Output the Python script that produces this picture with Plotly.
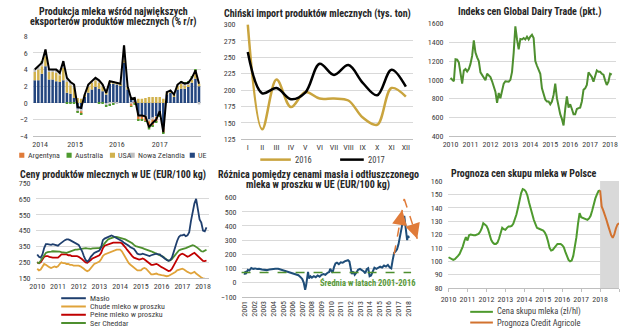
import plotly.graph_objects as go

W, H = 624, 329
FONT = "Liberation Sans Narrow, Arial Narrow, Roboto Condensed, Roboto, Arial, sans-serif"
TXT = "#404040"
TITLE = "#262626"
GRID = "#D9D9D9"
AXLINE = "#BFBFBF"

# ---------------- Panel 1: milk production (% y/y) ----------------
prod_labels = ["2014", "2015", "2016", "2017"]
prod_label_pos = [1.5, 11.3, 23, 35]
prod_ue = [2.7, 2.7, 3.5, 4.4, 2.8, 2.8, 2.6, 2.5, 2.7, 1.2, 1.1, 0.6,
           -0.7, -0.8, 0.7, 1.2, 1.6, 1.9, 1.7, 1.4, 1.0, 2.3, 2.3, 2.2,
           2.1, 4.8, 1.6, 0.5, 0.4, -1.5, -1.5, -1.5, -2.0, -1.8, -1.6, -1.2,
           -2.8, 1.0, 1.2, 0.7, 1.6, 1.7, 1.7, 1.9, 2.4, 2.9, 2.0]
prod_usa = [1.0, 1.3, 0.9, 1.2, 0.9, 0.9, 1.0, 0.8, 1.5, 1.3, 1.0, 1.2,
            0.6, 0.5, 0.3, 0.8, 0.8, 0.8, 0.7, 0.6, 0.4, 0.3, 0.3, 0.3,
            0.2, 0.3, 0.3, 0.2, 0.2, 0.5, 0.5, 0.6, 0.7, 0.7, 0.7, 0.7,
            0.5, 0.2, 0.2, 0.3, 0.5, 0.6, 0.4, 0.3, 0.4, 0.6, 0.3]
prod_nz = [0.3, 0.4, 0.4, 0.8, 0.3, 0.3, 0.4, 0.3, 0.8, 0.5, 0.4, 0.4,
           -0.3, -0.2, 0.0, 0.2, 0.2, 0.3, 0.3, 0.2, -0.3, -0.2, -0.1, -0.1,
           0.0, 1.8, 0.1, -0.1, 0.0, -0.1, 0.0, -0.1, -0.2, -0.2, -0.1, -0.1,
           -0.2, 0.1, 0.1, 0.0, 0.1, 0.2, 0.2, 0.2, 0.2, 0.4, -0.2]
prod_arg = [0.0, 0.0, 0.0, 0.0, 0.0, 0.0, 0.0, 0.0, 0.0, 0.0, 0.0, 0.0,
            -0.1, -0.3, 0.0, 0.0, 0.0, 0.0, 0.0, 0.0, 0.0, 0.0, 0.0, 0.0,
            0.0, 0.0, 0.0, -0.3, -0.1, -0.4, -0.5, -0.6, -0.8, -0.7, -0.6, -0.2,
            -0.6, 0.0, 0.0, 0.0, 0.0, 0.0, 0.0, 0.0, 0.0, 0.0, 0.0]
prod_aus = [0.0, 0.0, 0.1, 0.0, 0.0, 0.0, 0.0, 0.0, 0.0, -0.1, -0.1, -0.1,
            -0.1, -0.1, 0.0, 0.0, 0.0, 0.0, -0.1, -0.1, -0.1, -0.1, -0.1, 0.0,
            0.0, 0.0, 0.0, -0.1, -0.1, -0.1, -0.1, -0.1, -0.2, -0.1, -0.1, -0.1,
            -0.1, 0.0, 0.0, 0.0, 0.0, 0.1, 0.1, 0.1, 0.1, 0.1, 0.0]
prod_total = [4.0, 4.4, 4.8, 6.4, 4.0, 4.0, 4.0, 3.6, 5.0, 3.0, 2.5, 2.2,
              -0.5, -0.6, 1.0, 2.2, 2.6, 3.0, 2.7, 2.2, 1.2, 2.6, 2.5, 2.4,
              2.3, 6.9, 2.0, 0.5, 0.6, -1.5, -1.5, -1.6, -2.9, -2.4, -2.0, -1.0,
              -3.5, 1.3, 1.5, 1.0, 2.2, 2.5, 2.3, 2.4, 3.0, 3.9, 2.3]

# ---------------- Panel 2: Chinese imports ----------------
imp_months = ["I", "II", "III", "IV", "V", "VI", "VII", "VIII", "IX", "X", "XI", "XII"]
imp_2016 = [300, 140, 216, 174, 197, 187, 187, 184, 158, 147, 203, 190]
imp_2017 = [258, 195, 203, 186, 196, 240, 223, 238, 211, 192, 231, 205]

# ---------------- Panel 3: GDT index ----------------
gdt_start = 2010
gdt = [1020, 1000, 985, 1220, 1215, 1185, 1080, 960, 1100, 1115, 1090, 1115,
       1170, 1255, 1420, 1290, 1240, 1200, 1080, 1050, 1010, 995, 1065, 1050,
       1030, 985, 930, 875, 755, 860, 805, 895, 960, 985, 985, 980,
       1000, 1085, 1290, 1570, 1430, 1325, 1435, 1430, 1445, 1430, 1460, 1430,
       1460, 1480, 1445, 1200, 1150, 1115, 1065, 910, 840, 790, 770, 770,
       740, 770, 840, 960, 805, 710, 635, 585, 515, 690, 825, 705,
       740, 690, 635, 635, 690, 700, 705, 770, 895, 910, 945, 1080,
       1050, 1030, 980, 1050, 1100, 1085, 1085, 1065, 1055, 995, 945, 980,
       1065, 1055]

# ---------------- Panel 4: EU dairy prices ----------------
eu_start = 2010
eu_maslo = [300, 285, 280, 300, 340, 365, 365, 360, 360, 365, 360, 355,
            355, 365, 375, 385, 390, 395, 395, 390, 385, 380, 375, 370,
            360, 340, 320, 290, 265, 255, 265, 285, 300, 310, 315, 320,
            325, 345, 390, 400, 405, 410, 415, 420, 415, 410, 405, 400,
            395, 385, 375, 370, 360, 355, 345, 340, 335, 320, 305, 300,
            300, 305, 300, 295, 290, 290, 295, 300, 305, 305, 300, 300,
            290, 280, 270, 265, 260, 265, 280, 310, 350, 385, 410, 420,
            420, 425, 415, 420, 440, 510, 570, 620, 650, 580, 520, 500,
            450, 445, 470]
eu_smp = [210, 200, 205, 225, 240, 235, 225, 220, 215, 220, 225, 220,
          225, 240, 250, 245, 245, 240, 240, 235, 235, 230, 230, 230,
          230, 225, 220, 210, 200, 195, 200, 215, 230, 240, 245, 250,
          255, 270, 290, 300, 305, 310, 315, 320, 325, 325, 330, 330,
          330, 320, 300, 280, 260, 245, 235, 225, 215, 205, 200, 200,
          200, 210, 215, 210, 200, 185, 175, 175, 180, 180, 175, 170,
          170, 168, 165, 163, 165, 170, 175, 180, 190, 200, 205, 210,
          210, 205, 195, 190, 185, 180, 185, 190, 180, 170, 160, 155,
          150, 148, 145]
eu_wmp = [250, 245, 250, 265, 285, 290, 290, 285, 280, 280, 280, 280,
          280, 290, 300, 300, 300, 300, 295, 295, 290, 290, 290, 290,
          285, 280, 270, 260, 250, 248, 255, 265, 275, 280, 285, 290,
          295, 310, 340, 355, 360, 365, 370, 370, 375, 375, 375, 375,
          375, 370, 360, 345, 330, 315, 300, 290, 280, 275, 270, 268,
          270, 275, 270, 260, 250, 240, 235, 235, 240, 240, 235, 225,
          220, 215, 210, 200, 195, 198, 210, 230, 250, 270, 290, 300,
          305, 300, 290, 285, 290, 300, 305, 310, 300, 285, 275, 265,
          260, 258, 262]
eu_cheddar = [250, 245, 260, 280, 300, 310, 315, 315, 318, 320, 320, 320,
              320, 318, 315, 315, 312, 310, 315, 320, 325, 330, 330, 330,
              332, 335, 335, 340, 340, 338, 335, 335, 338, 340, 340, 340,
              340, 345, 355, 370, 385, 395, 400, 405, 410, 410, 410, 408,
              405, 400, 398, 395, 390, 385, 380, 370, 360, 352, 350, 348,
              345, 340, 335, 332, 330, 325, 320, 315, 310, 305, 300, 298,
              295, 285, 275, 265, 260, 262, 270, 285, 300, 315, 325, 330,
              332, 335, 340, 345, 350, 355, 358, 355, 350, 340, 330, 320,
              318, 325, 330]

# ---------------- Panel 5: butter - SMP spread ----------------
spread_years = [2001.0, 2001.1, 2001.2, 2001.35, 2001.5, 2001.7, 2001.9, 2002.1, 2002.3, 2002.5,
                2002.8, 2003.0, 2003.3, 2003.6, 2003.9, 2004.2, 2004.5, 2004.8, 2005.1, 2005.4,
                2005.7, 2006.0, 2006.3, 2006.6, 2006.8, 2007.0, 2007.15, 2007.3, 2007.4, 2007.5,
                2007.6, 2007.7, 2007.85, 2008.0, 2008.2, 2008.4, 2008.6, 2008.8, 2009.0, 2009.2,
                2009.4, 2009.6, 2009.8, 2009.9, 2010.0, 2010.15, 2010.3, 2010.45, 2010.6, 2010.8,
                2011.0, 2011.2, 2011.4, 2011.6, 2011.75, 2011.9, 2012.0, 2012.15, 2012.3, 2012.45,
                2012.6, 2012.8, 2013.0, 2013.2, 2013.4, 2013.55, 2013.7, 2013.85, 2014.0, 2014.15,
                2014.3, 2014.5, 2014.7, 2014.9, 2015.1, 2015.3, 2015.5, 2015.7, 2015.9, 2016.1,
                2016.25, 2016.4, 2016.55, 2016.7, 2016.85, 2017.0, 2017.15, 2017.3, 2017.45, 2017.6,
                2017.7, 2017.8, 2017.9, 2018.0, 2018.1]
spread_values = [55, 80, 70, 90, 85, 103, 97, 100, 96, 98,
                 92, 90, 88, 92, 96, 98, 97, 90, 85, 80,
                 74, 67, 60, 52, 40, 25, 0, -50, -20, 40,
                 75, 30, 45, 35, 45, 38, 50, 42, 55, 60,
                 55, 68, 75, 97, 82, 70, 110, 135, 140, 130,
                 143, 140, 150, 155, 158, 148, 105, 60, 78, 55,
                 68, 90, 97, 88, 78, 66, 95, 102, 45, 50,
                 78, 105, 97, 102, 112, 106, 120, 113, 125, 106,
                 100, 160, 210, 220, 235, 270, 330, 380, 430, 470,
                 420, 350, 300, 330, 315]
spread_avg = 72
trend_years = [2016.55, 2017.6, 2018.95]
trend_values = [200, 590, 310]

# ---------------- Panel 6: Polish milk purchase price ----------------
milk_start = 2010
milk_price = [103, 102.5, 101.5, 101, 101.5, 102.5, 104, 105.5, 108, 111, 115, 118,
              115.5, 119.5, 120, 119.5, 119.5, 119.5, 120, 120.5, 122, 124.5, 128.5, 127.5,
              126.5, 124, 119, 116, 114, 113, 113, 114, 117, 121, 125, 124,
              123.5, 125, 126, 126, 126.5, 128, 131, 135, 140, 146, 151, 154,
              153.5, 152, 149, 144, 139, 135, 131, 128, 125, 124.5, 124, 123.5,
              123, 121.5, 119, 115, 110, 108, 108.5, 110, 112, 113, 113, 113,
              112, 110.5, 107, 104, 101, 100, 100.5, 104, 110, 118, 128, 136,
              133, 132.5, 132, 131.5, 131, 132, 134, 138, 143, 147, 150, 152.5,
              153]
forecast_start = 2018
milk_forecast = [153, 141, 138, 135, 131, 127, 123, 119.5, 117.5, 120, 124.5, 127.5, 128.5]

# ---------------- layout geometry (pixels) ----------------
DOM = {
    1: ((26, 197), (33, 136)),
    2: ((237, 412), (21, 139)),
    3: ((448, 618), (20, 136)),
    4: ((29, 205), (184, 282)),
    5: ((238, 410), (199, 301)),
    6: ((447, 621), (182, 292)),
}
XR = {1: [-0.6, 46.6], 2: [-0.5, 11.5], 3: [2009.9, 2018.3], 4: [2009.92, 2018.29],
      5: [2000.69, 2018.31], 6: [2009.948, 2019.0]}
YR = {1: [-4, 8], 2: [125, 300], 3: [400, 1600], 4: [150, 750], 5: [-100, 600], 6: [80, 160]}


def ax(k, c):
    return c if k == 1 else f"{c}{k}"


def to_paper(k, xv, yv):
    (x0, x1), (y0, y1) = DOM[k]
    xr, yr = XR[k], YR[k]
    px = x0 + (xv - xr[0]) / (xr[1] - xr[0]) * (x1 - x0)
    py = y1 - (yv - yr[0]) / (yr[1] - yr[0]) * (y1 - y0)
    return px / W, 1 - py / H


fig = go.Figure()

# Panel 1 bars
C_UE, C_USA, C_NZ, C_ARG, C_AUS = "#24467F", "#D1B24E", "#BFBFBF", "#E07B39", "#4E9A2E"
idx = list(range(len(prod_total)))
for name, vals, col in [("UE", prod_ue, C_UE), ("USA", prod_usa, C_USA),
                        ("Nowa Zelandia", prod_nz, C_NZ), ("Argentyna", prod_arg, C_ARG),
                        ("Australia", prod_aus, C_AUS)]:
    fig.add_trace(go.Bar(x=idx, y=vals, name=name, marker=dict(color=col, line=dict(width=0)),
                         xaxis="x", yaxis="y", showlegend=False))
fig.add_trace(go.Scatter(x=idx, y=prod_total, mode="lines", line=dict(color="black", width=2),
                         xaxis="x", yaxis="y", showlegend=False))

# Panel 2 lines
C_2016 = "#C9A43E"
m_idx = list(range(12))
fig.add_trace(go.Scatter(x=m_idx, y=imp_2016, mode="lines", line=dict(color=C_2016, width=2.5, shape="spline", smoothing=1.0),
                         xaxis="x2", yaxis="y2", showlegend=False))
fig.add_trace(go.Scatter(x=m_idx, y=imp_2017, mode="lines", line=dict(color="black", width=2.5, shape="spline", smoothing=1.0),
                         xaxis="x2", yaxis="y2", showlegend=False))

# Panel 3 GDT
C_GREEN = "#4E8F2F"
gdt_x = [gdt_start + i / 12 for i in range(len(gdt))]
fig.add_trace(go.Scatter(x=gdt_x, y=gdt, mode="lines", line=dict(color=C_GREEN, width=2),
                         xaxis="x3", yaxis="y3", showlegend=False))

# Panel 4 EU prices
C_MASLO, C_SMP, C_WMP, C_CHED = "#1F3F6E", "#E0A33A", "#C00000", "#4E8F2F"
eu_x = [eu_start + i / 12 for i in range(len(eu_maslo))]
for vals, col in [(eu_smp, C_SMP), (eu_wmp, C_WMP), (eu_cheddar, C_CHED), (eu_maslo, C_MASLO)]:
    fig.add_trace(go.Scatter(x=eu_x, y=vals, mode="lines", line=dict(color=col, width=1.8),
                             xaxis="x4", yaxis="y4", showlegend=False))

# Panel 5 spread
C_BLUE5 = "#1F4E79"
C_ORANGE = "#E07B39"
fig.add_trace(go.Scatter(x=spread_years, y=spread_values, mode="lines", line=dict(color=C_BLUE5, width=2),
                         xaxis="x5", yaxis="y5", showlegend=False))

# Panel 6 milk price
C_GREEN6 = "#4E9A2E"
C_FORE = "#D2722F"
milk_x = [milk_start + i / 12 for i in range(len(milk_price))]
fore_x = [forecast_start + i / 12 for i in range(len(milk_forecast))]
fig.add_trace(go.Scatter(x=milk_x, y=milk_price, mode="lines", line=dict(color=C_GREEN6, width=2),
                         xaxis="x6", yaxis="y6", showlegend=False))
fig.add_trace(go.Scatter(x=fore_x, y=milk_forecast, mode="lines", line=dict(color=C_FORE, width=2),
                         xaxis="x6", yaxis="y6", showlegend=False))

# ---------------- axes ----------------
tickfont = dict(family=FONT, size=8, color=TXT)
layout_axes = {}
for k in range(1, 7):
    (x0, x1), (y0, y1) = DOM[k]
    xa = dict(domain=[x0 / W, x1 / W], range=XR[k], anchor=ax(k, "y"), showgrid=False, zeroline=False,
              showline=True, linecolor=AXLINE, linewidth=1, tickfont=tickfont, ticks="", fixedrange=True)
    ya = dict(domain=[1 - y1 / H, 1 - y0 / H], range=YR[k], anchor=ax(k, "x"), showgrid=True, gridcolor=GRID,
              gridwidth=1, zeroline=False, showline=False, tickfont=tickfont, ticks="", fixedrange=True,
              ticklabelstandoff=4)
    layout_axes["xaxis" if k == 1 else f"xaxis{k}"] = xa
    layout_axes["yaxis" if k == 1 else f"yaxis{k}"] = ya

layout_axes["xaxis"].update(tickmode="array", tickvals=prod_label_pos, ticktext=prod_labels)
layout_axes["yaxis"].update(dtick=2, tick0=0)
layout_axes["xaxis2"].update(tickmode="array", tickvals=m_idx, ticktext=imp_months)
layout_axes["yaxis2"].update(dtick=25, tick0=125)
layout_axes["xaxis3"].update(tickmode="linear", tick0=2010, dtick=1, tickformat="d")
layout_axes["yaxis3"].update(dtick=200, tick0=400)
layout_axes["xaxis4"].update(tickmode="linear", tick0=2010, dtick=1, tickformat="d")
layout_axes["yaxis4"].update(dtick=100, tick0=150)
layout_axes["xaxis5"].update(tickmode="array", tickvals=list(range(2001, 2019)),
                             ticktext=[str(y) for y in range(2001, 2019)], tickangle=-90,
                             tickfont=dict(family=FONT, size=8, color=TXT))
layout_axes["yaxis5"].update(dtick=100, tick0=-100)
layout_axes["xaxis6"].update(tickmode="linear", tick0=2010, dtick=1, tickformat="d",
                             ticks="outside", ticklen=3, tickcolor=AXLINE)
layout_axes["yaxis6"].update(dtick=10, tick0=80)

shapes = []
annotations = []


def title(text, cx, cy, size=10):
    annotations.append(dict(text=f"<b>{text}</b>", x=cx / W, y=1 - cy / H, xref="paper", yref="paper",
                            xanchor="center", yanchor="middle", showarrow=False,
                            font=dict(family=FONT, size=size, color=TITLE)))


title("Produkcja mleka wśród największych", 108, 7.5)
title("eksporterów produktów mlecznych (% r/r)", 108, 18.5)
title("Chiński import produktów mlecznych (tys. ton)", 315, 10)
title("Indeks cen Global Dairy Trade (pkt.)", 530, 8)
title("Ceny produktów mlecznych w UE (EUR/100 kg)", 108, 175.5)
title("Różnica pomiędzy cenami masła i odtłuszczonego", 316, 175)
title("mleka w proszku w UE (EUR/100 kg)", 316, 186.5)
title("Prognoza cen skupu mleka w Polsce", 525, 174)


def leg_text(text, x, y, size=8):
    annotations.append(dict(text=text, x=x / W, y=1 - y / H, xref="paper", yref="paper",
                            xanchor="left", yanchor="middle", showarrow=False,
                            font=dict(family=FONT, size=size, color=TXT)))


def leg_square(x, y, color, text):
    s = 2.6
    shapes.append(dict(type="rect", xref="paper", yref="paper", x0=(x - s) / W, x1=(x + s) / W,
                       y0=1 - (y + s) / H, y1=1 - (y - s) / H, fillcolor=color, line=dict(width=0)))
    leg_text(text, x + 4, y)


def leg_line(x0, x1, y, color, text, width=2.5, size=8):
    shapes.append(dict(type="line", xref="paper", yref="paper", x0=x0 / W, x1=x1 / W,
                       y0=1 - y / H, y1=1 - y / H, line=dict(color=color, width=width)))
    leg_text(text, x1 + 2, y, size)


# Panel 1 legend
leg_square(15, 155.5, C_ARG, "Argentyna")
leg_square(63, 155.5, C_AUS, "Australia")
leg_square(107, 155.5, C_USA, "USA")
leg_square(127, 155.5, C_NZ, "Nowa Zelandia")
leg_square(188, 155.5, C_UE, "UE")
# Panel 2 legend
leg_line(257, 288, 160, C_2016, "2016", size=8.5)
leg_line(338, 362, 160, "black", "2017", size=8.5)
# Panel 4 legend
leg_line(55, 80, 302.5, C_MASLO, "Masło", 2)
leg_line(55, 80, 311, C_SMP, "Chude mleko w proszku", 2)
leg_line(55, 80, 319.5, C_WMP, "Pełne mleko w proszku", 2)
leg_line(55, 80, 328, C_CHED, "Ser Cheddar", 2)
# Panel 6 legend
leg_line(470, 493, 316.5, C_GREEN6, "Cena skupu mleka (zł/hl)", 2, 8.5)
leg_line(470, 493, 327.5, C_FORE, "Prognoza Credit Agricole", 2, 8.5)

# Panel 5 average line and label
shapes.append(dict(type="line", xref="x5 domain", yref="y5", x0=0, x1=1, y0=spread_avg, y1=spread_avg,
                   line=dict(color=C_GREEN, width=1.5, dash="dash")))
annotations.append(dict(text="<b>Średnia w latach 2001-2016</b>", x=366 / W, y=1 - 286.5 / H,
                        xref="paper", yref="paper", xanchor="center", yanchor="middle", showarrow=False,
                        font=dict(family=FONT, size=8.5, color="#5A9A3A")))

# Panel 5 trend arrows (dashed orange)
pts = [to_paper(5, xv, yv) for xv, yv in zip(trend_years, trend_values)]
for a, b in [(pts[0], pts[1]), (pts[1], pts[2])]:
    shapes.append(dict(type="line", xref="paper", yref="paper", x0=a[0], y0=a[1], x1=b[0], y1=b[1],
                       line=dict(color=C_ORANGE, width=1.5, dash="dash")))
head1_x = trend_years[0] + 0.8 * (trend_years[1] - trend_years[0])
head1_y = trend_values[0] + 0.8 * (trend_values[1] - trend_values[0])
for (hx, hy), (tx, ty) in [((head1_x, head1_y), (trend_years[0], trend_values[0])),
                           ((trend_years[2], trend_values[2]), (trend_years[1], trend_values[1]))]:
    hp = to_paper(5, hx, hy)
    tp = to_paper(5, tx, ty)
    dxp, dyp = (tp[0] - hp[0]) * W, -(tp[1] - hp[1]) * H
    n = (dxp ** 2 + dyp ** 2) ** 0.5
    annotations.append(dict(x=hp[0], y=hp[1], xref="paper", yref="paper", text="", showarrow=True,
                            ax=dxp / n * 6, ay=dyp / n * 6, arrowhead=2, arrowsize=2, arrowwidth=1.5,
                            arrowcolor=C_ORANGE))

# Panel 6 forecast shading
shapes.append(dict(type="rect", xref="x6", yref="y6 domain", x0=forecast_start, x1=XR[6][1], y0=0, y1=1,
                   fillcolor="#D9D9D9", line=dict(width=0), layer="below"))

fig.update_layout(
    width=W, height=H, margin=dict(l=0, r=0, t=0, b=0),
    paper_bgcolor="white", plot_bgcolor="white",
    showlegend=False, barmode="relative", bargap=0.3,
    font=dict(family=FONT, size=8, color=TXT),
    shapes=shapes, annotations=annotations,
    **layout_axes,
)

fig.write_html("out.html")
